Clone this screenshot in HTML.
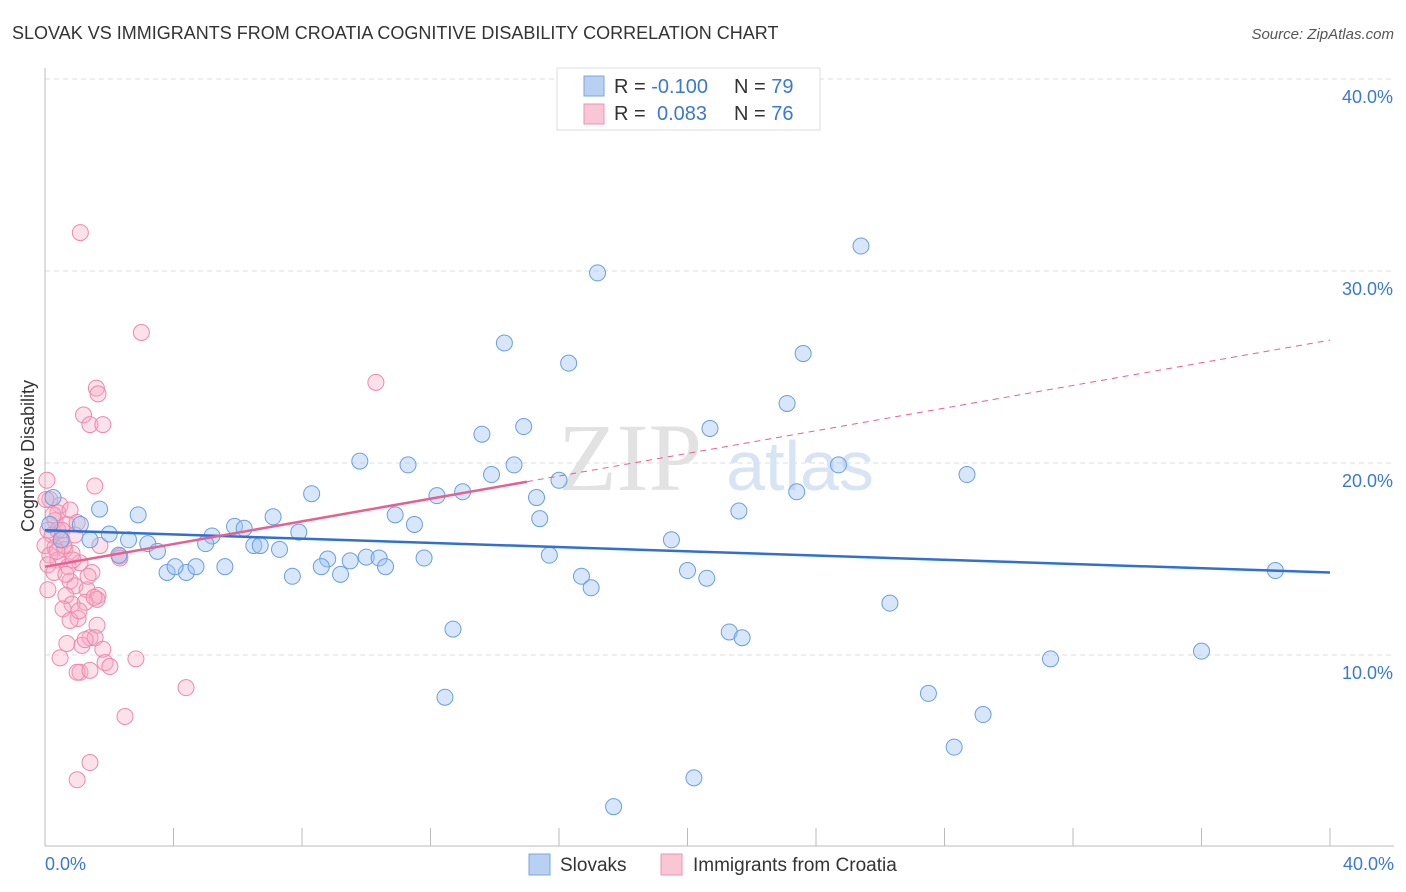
<!DOCTYPE html>
<html><head><meta charset="utf-8"><style>
body{margin:0;background:#fff;font-family:"Liberation Sans",sans-serif;}
svg{display:block}
</style></head><body>
<svg id="chart" width="1406" height="892">
<text x="12" y="39" font-size="18" fill="#333">SLOVAK VS IMMIGRANTS FROM CROATIA COGNITIVE DISABILITY CORRELATION CHART</text>
<text x="1394" y="39" font-size="15" fill="#555" font-style="italic" text-anchor="end">Source: ZipAtlas.com</text>
<g id="grid"></g>
<text x="630" y="490" font-size="96" font-family="Liberation Serif" fill="#e2e2e2" text-anchor="middle">ZIP</text>
<text x="800" y="490" font-size="70" fill="#d6e4f5" text-anchor="middle">atlas</text>
<line x1="45" y1="68" x2="45" y2="846" stroke="#bbb"/>
<line x1="45" y1="846" x2="1394" y2="846" stroke="#bbb"/>
<text transform="translate(34,456) rotate(-90)" font-size="18" fill="#333" text-anchor="middle">Cognitive Disability</text>
<text x="45" y="870" font-size="18" fill="#3a78d6">0.0%</text>
<text x="1394" y="870" font-size="18" fill="#3a78d6" text-anchor="end">40.0%</text>
<g id="points"></g>
<g id="trends"></g>
<g>
<rect x="557" y="68" width="263" height="62" fill="#fff" stroke="#ddd"/>
<rect x="584" y="76" width="20" height="20" fill="#b8d1f3" stroke="#7aa5e3"/>
<rect x="584" y="104" width="20" height="20" fill="#f8c6d5" stroke="#ec93b2"/>
<text x="614" y="93" font-size="20" fill="#333">R = <tspan fill="#3a78d6">-0.100</tspan><tspan x="734">N = </tspan><tspan fill="#3a78d6">79</tspan></text>
<text x="614" y="120" font-size="20" fill="#333">R = <tspan x="657" fill="#3a78d6">0.083</tspan><tspan x="734">N = </tspan><tspan fill="#3a78d6">76</tspan></text>
</g>
<rect x="529" y="854" width="21" height="21" fill="#b8d1f3" stroke="#7aa5e3"/>
<text x="560" y="871" font-size="19" fill="#333">Slovaks</text>
<rect x="661" y="854" width="21" height="21" fill="#f8c6d5" stroke="#ec93b2"/>
<text x="693" y="871" font-size="19" fill="#333">Immigrants from Croatia</text>
</svg>
<script>
const yTicks=[10,20,30,40];
const yTickLabels=["10.0%","20.0%","30.0%","40.0%"];
const xTicks=[0,4,8,12,16,20,24,28,32,36,40];
const blueX=[17.2,25.4,14.3,23.6,16.3,23.1,13.6,14.9,20.7,9.8,11.3,14.6,13.9,24.7,28.7,16.0,13.0,12.2,8.3,15.3,23.4,1.7,2.9,10.9,7.1,15.4,21.6,11.5,1.1,0.25,5.9,6.2,7.9,2.0,2.6,5.2,1.4,3.2,5.0,6.5,6.7,7.3,3.5,2.3,19.5,15.7,8.8,9.5,10.0,10.4,11.8,3.8,4.4,4.05,4.7,5.6,7.7,8.6,9.2,10.6,16.7,20.0,20.6,38.3,17.0,26.3,12.7,21.3,21.7,31.3,36.0,12.45,27.5,29.2,28.3,20.2,17.7,0.5,0.15];
const blueY=[29.9,31.3,26.25,25.7,25.2,23.1,21.5,21.9,21.8,20.1,19.9,19.9,19.4,19.9,19.4,19.1,18.5,18.3,18.4,18.2,18.5,17.6,17.3,17.3,17.2,17.1,17.5,16.8,16.8,18.2,16.7,16.6,16.4,16.3,16.0,16.2,16.0,15.8,15.8,15.7,15.7,15.5,15.4,15.2,16.0,15.2,15.0,14.9,15.1,15.05,15.05,14.3,14.3,14.6,14.6,14.6,14.1,14.6,14.2,14.6,14.1,14.4,14.0,14.4,13.5,12.7,11.35,11.2,10.9,9.8,10.2,7.8,8.0,6.9,5.2,3.6,2.1,16.0,16.8];
const pinkX=[1.1,3.0,10.3,1.6,1.65,1.2,1.4,1.8,0.06,1.55,0.15,0.47,0.4,0.78,0.31,0.68,1.0,0.09,0.22,0.53,0,0.31,0.62,0.15,0.84,0.4,0.09,1.09,0.72,2.33,1.46,0.78,0.93,1.31,1.65,0.65,1.62,0.84,1.25,0.56,1.03,0.78,1.62,1.4,1.56,0.68,1.15,1.8,0.47,1.87,2.83,2.02,1.09,1.0,1.4,4.39,2.49,1.4,1.0,0.25,0.4,0.59,0.28,1.34,0.87,1.25,2.33,0.03,0.53,0.37,0.93,1.71,0.65,0.09,1.53,1.06];
const pinkY=[32.0,26.8,24.2,23.9,23.6,22.5,22.0,22.0,19.1,18.8,18.1,17.8,17.4,17.55,17.0,16.8,16.9,16.5,16.25,16.0,15.7,15.6,15.5,15.2,15.3,14.95,14.7,14.8,14.6,15.15,14.3,13.85,13.6,13.4,13.1,13.1,12.9,12.65,12.75,12.4,11.9,11.8,11.55,10.9,10.9,10.6,10.5,10.3,9.85,9.6,9.8,9.4,9.1,9.1,9.2,8.3,6.8,4.4,3.5,17.3,16.5,15.7,14.3,14.1,14.95,10.8,15.05,18.1,16.5,15.4,16.25,15.7,14.2,13.4,13.0,12.3];
const blueTrend=[16.5,14.3];
const pinkTrend=[14.6,26.4];
const pinkSolidEnd=15.0;
const NS="http://www.w3.org/2000/svg";
const X=v=>45+v*32.125;
const Y=v=>847-v*19.2;
function mk(tag,attrs,parent){const e=document.createElementNS(NS,tag);for(const k in attrs)e.setAttribute(k,attrs[k]);parent.appendChild(e);return e;}
const grid=document.getElementById('grid');
yTicks.forEach((t,i)=>{
 const l=mk('line',{x1:45,x2:1394,y1:Y(t),y2:Y(t),stroke:'#ddd','stroke-dasharray':'5,4'},grid);
 
 
 const tx=mk('text',{x:1393,y:Y(t)+24,'font-size':18,fill:'#3a78d6','text-anchor':'end'},grid);
 tx.textContent=yTickLabels[i];
 
 
});
xTicks.forEach(t=>{
 const l=mk('line',{x1:X(t),x2:X(t),y1:828,y2:846,stroke:'#bbb'},grid);
 
 
});
const pts=document.getElementById('points');
pinkX.forEach((x,i)=>{
 const c=mk('circle',{cx:X(x),cy:Y(pinkY[i]),r:8,fill:'rgba(246,168,196,0.35)',stroke:'#ec8aac','stroke-width':1},pts);
 
 
});
blueX.forEach((x,i)=>{
 const c=mk('circle',{cx:X(x),cy:Y(blueY[i]),r:8,fill:'rgba(160,196,240,0.42)',stroke:'#6a9fe0','stroke-width':1},pts);
 
 
});
const tr=document.getElementById('trends');
const b=mk('line',{x1:X(0),y1:Y(blueTrend[0]),x2:X(40),y2:Y(blueTrend[1]),stroke:'#2f6fd6','stroke-width':2.5},tr);


const py=v=>pinkTrend[0]+(pinkTrend[1]-pinkTrend[0])*v/40;
const pd=mk('line',{x1:X(pinkSolidEnd),y1:Y(py(pinkSolidEnd)),x2:X(40),y2:Y(pinkTrend[1]),stroke:'#e8608f','stroke-width':1,'stroke-dasharray':'6,5'},tr);


const ps=mk('line',{x1:X(0),y1:Y(pinkTrend[0]),x2:X(pinkSolidEnd),y2:Y(py(pinkSolidEnd)),stroke:'#e8608f','stroke-width':2.5},tr);


</script>
</body></html>
